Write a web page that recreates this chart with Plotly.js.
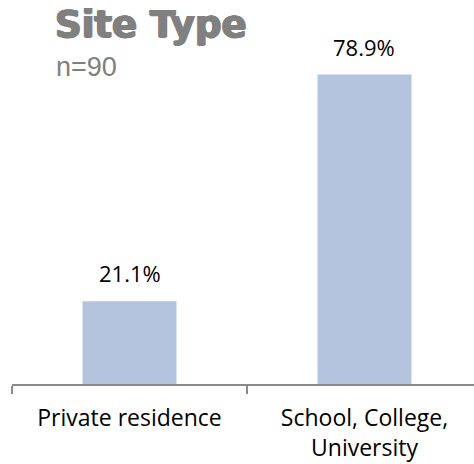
<!DOCTYPE html>
<html>
<head>
<meta charset="utf-8">
<script src="https://cdn.plot.ly/plotly-3.0.1.min.js"></script>
<style>html,body{margin:0;padding:0;background:#fff;overflow:hidden;}</style>
</head>
<body>
<div id="chart" style="width:474px;height:464px;"></div>
<script>
var categories = ["Private residence", "School, College,<br>University"];
var values = [21.1, 78.9];
var valueLabels = ["21.1%", "78.9%"];
var titleText = "Site Type";
var subtitleText = "n=90";

var trace = {
  type: "bar",
  x: categories,
  y: values,
  width: 0.4,
  marker: {color: "#b4c4df"},
  hoverinfo: "none"
};

var annotations = categories.map(function(c, i) {
  return {
    x: c, y: values[i], xref: "x", yref: "y",
    text: valueLabels[i], showarrow: false,
    yanchor: "middle", yshift: 28,
    font: {family: "Open Sans", size: 22, color: "#000"}
  };
});
annotations.push({
  xref: "paper", yref: "paper", x: (53 - 12) / 462, y: (384 - 25) / 353,
  xanchor: "left", yanchor: "middle", showarrow: false,
  text: titleText,
  font: {family: "DejaVu Sans", size: 37, weight: "bold", color: "#808080",
         shadow: "1px 0px 0px #808080, -1px 0px 0px #808080, 0px 1px 0px #808080, 0px -0.5px 0px #808080"}
});
annotations.push({
  xref: "paper", yref: "paper", x: (55 - 12) / 462 - 0.003, y: (384 - 67) / 353,
  xanchor: "left", yanchor: "middle", showarrow: false,
  text: subtitleText,
  font: {family: "Liberation Sans", size: 27, color: "#808080"}
});

var layout = {
  width: 474, height: 464,
  margin: {l: 12, r: 0, t: 31, b: 80},
  paper_bgcolor: "#fff", plot_bgcolor: "#fff",
  showlegend: false,
  bargap: 0.6,
  xaxis: {
    type: "category",
    range: [-0.5, 1.466],
    showline: true, linecolor: "#8a8a8a", linewidth: 2,
    ticks: "outside", tickson: "boundaries", ticklen: 8, tickwidth: 2, tickcolor: "#8a8a8a",
    ticklabelstandoff: 12,
    tickfont: {family: "Open Sans", size: 23, color: "#000"},
    showgrid: false, zeroline: false, fixedrange: true
  },
  yaxis: {
    range: [0, 90],
    visible: false, showgrid: false, zeroline: false, fixedrange: true
  },
  annotations: annotations
};

Plotly.newPlot("chart", [trace], layout, {staticPlot: true, displayModeBar: false});
</script>
</body>
</html>
